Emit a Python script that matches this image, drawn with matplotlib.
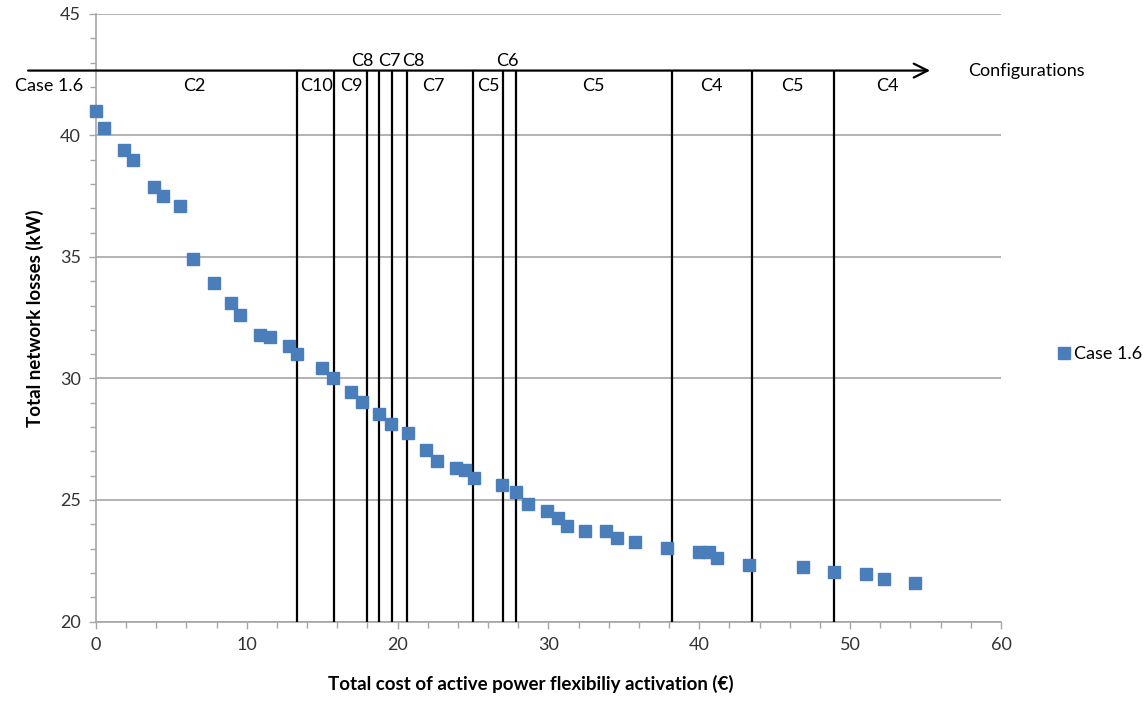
import matplotlib
matplotlib.use('Agg')
from matplotlib import pyplot as plt
from matplotlib.ticker import MultipleLocator

# Data
cost = [0, 0.55, 1.88, 2.48, 3.87, 4.42, 5.59, 6.41, 7.80, 8.93, 9.57, 10.88,
        11.56, 12.78, 13.33, 14.97, 15.72, 16.91, 17.64, 18.79, 19.56, 20.67,
        21.86, 22.61, 23.87, 24.49, 25.07, 26.89, 27.87, 28.63, 29.89, 30.66,
        31.23, 32.43, 33.81, 34.57, 35.76, 37.88, 39.95, 40.62, 41.2, 43.3,
        46.86, 48.96, 51.02, 52.23, 54.33]
losses = [41.0, 40.3, 39.39, 39.0, 37.89, 37.5, 37.11, 34.92, 33.92, 33.09,
          32.61, 31.79, 31.72, 31.33, 31.02, 30.42, 30.03, 29.45, 29.05, 28.53,
          28.13, 27.74, 27.06, 26.62, 26.33, 26.23, 25.92, 25.62, 25.32, 24.85,
          24.55, 24.25, 23.94, 23.73, 23.73, 23.42, 23.26, 23.04, 22.87, 22.87,
          22.6, 22.34, 22.26, 22.05, 21.95, 21.74, 21.57]

# Configuration boundaries
boundaries = [13.35, 15.8, 17.97, 18.78, 19.65, 20.65, 25.0, 26.97, 27.86,
              38.2, 43.5, 48.9]

# Configuration labels below the arrow
low_labels = ['C2', 'C10', 'C9', 'C7', 'C5', 'C5', 'C4', 'C5', 'C4']
low_pos = [6.5, 14.6, 16.9, 22.35, 26.0, 32.96, 40.8, 46.15, 52.45]
# labels above the arrow (narrow segments)
high_labels = ['C8', 'C7', 'C8', 'C6']
high_pos = [17.67, 19.43, 21.02, 27.25]

arrow_y = 42.67

plt.rcParams['font.family'] = ['Lato', 'DejaVu Sans']

fig = plt.figure(figsize=(11.44, 7.19), dpi=100)
ax = fig.add_axes([0.0839, 0.1356, 0.7911, 0.845])

grid_col = '#a6a6a6'
ax.set_xlim(0, 60)
ax.set_ylim(20, 45)
ax.xaxis.set_major_locator(MultipleLocator(10))
ax.xaxis.set_minor_locator(MultipleLocator(2))
ax.yaxis.set_major_locator(MultipleLocator(5))
ax.yaxis.set_minor_locator(MultipleLocator(1))
ax.grid(axis='y', which='major', color=grid_col, linewidth=1.2)
ax.set_axisbelow(True)
for s in ['top', 'right']:
    ax.spines[s].set_visible(False)
for s in ['left', 'bottom']:
    ax.spines[s].set_color(grid_col)
    ax.spines[s].set_linewidth(1.2)
ax.tick_params(which='both', direction='out', color=grid_col, width=1,
               labelsize=13, labelcolor='#333333')
ax.tick_params(which='major', length=5, pad=6)
ax.tick_params(which='minor', length=4)

# Vertical lines between configurations
ax.vlines(boundaries, 20, arrow_y, color='black', linewidth=1.6, zorder=3)

# Points
ax.plot(cost, losses, linestyle='none', marker='s', markersize=8,
        color='#4a7ebb', clip_on=False, zorder=4, label='Case 1.6')

# Arrow of configurations
ax.annotate('', xy=(55.3, arrow_y), xytext=(-4.5, arrow_y),
            annotation_clip=False,
            arrowprops=dict(arrowstyle='->', color='black', lw=1.6,
                            mutation_scale=25, shrinkA=0, shrinkB=0))
for lab, x in zip(low_labels, low_pos):
    ax.text(x, 42.04, lab, ha='center', va='center', fontsize=13)
for lab, x in zip(high_labels, high_pos):
    ax.text(x, 43.07, lab, ha='center', va='center', fontsize=13)
ax.text(-0.85, 42.02, 'Case 1.6', ha='right', va='center', fontsize=13,
        clip_on=False)
ax.text(57.8, arrow_y, 'Configurations', ha='left', va='center', fontsize=13,
        clip_on=False)

# Axis titles
fig.text(531 / 1144, 1 - 684 / 719,
         'Total cost of active power flexibiliy activation (€)',
         ha='center', va='center', fontsize=13.5, fontweight='bold')
fig.text(35 / 1144, 1 - 318 / 719, 'Total network losses (kW)',
         ha='center', va='center', rotation=90, fontsize=13.5,
         fontweight='bold')

fig.legend(loc='center right', bbox_to_anchor=(1142 / 1144, 1 - 354 / 719),
           frameon=False, fontsize=13, handletextpad=0.15, markerscale=1.0,
           handlelength=0.8, borderpad=0, borderaxespad=0)

fig.savefig('out.png', dpi=100)
